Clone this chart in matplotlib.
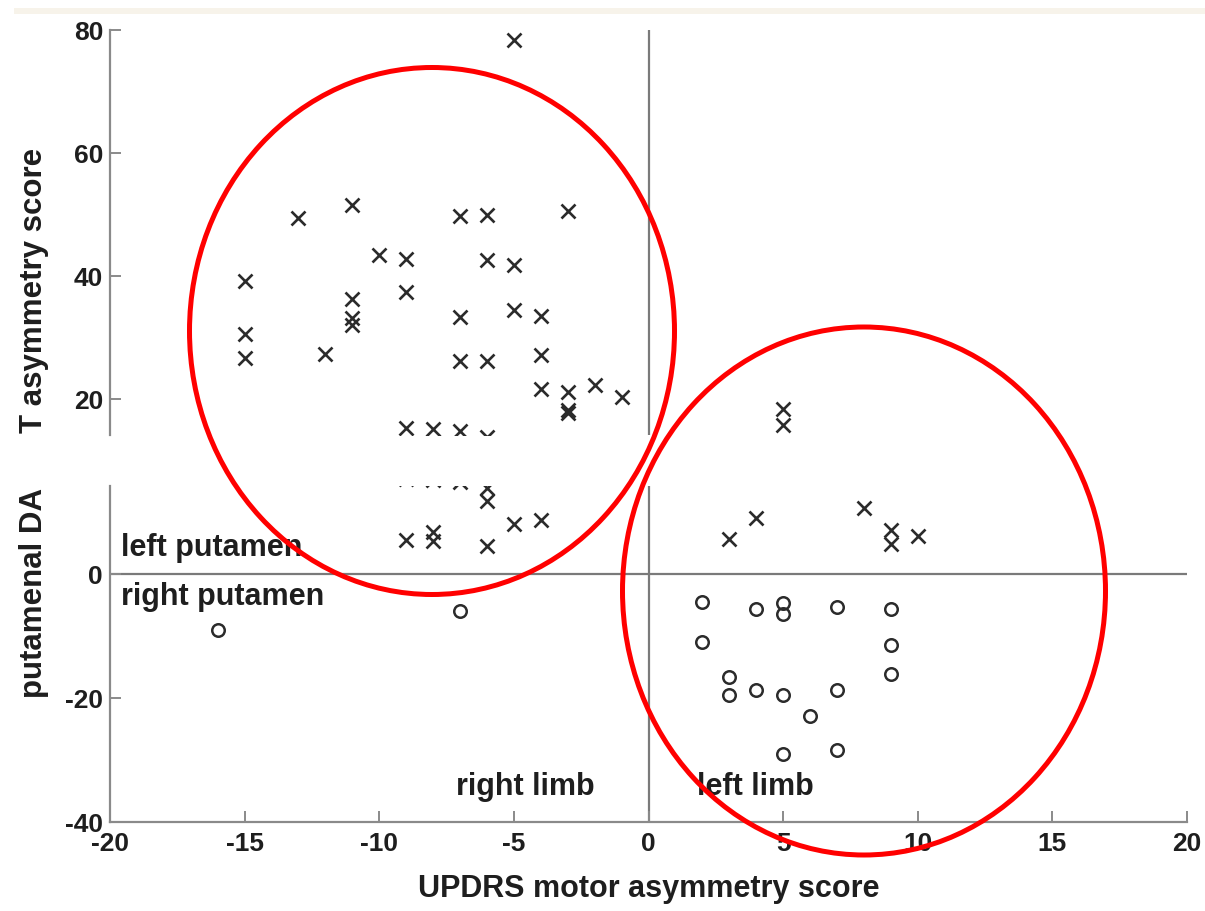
import matplotlib
matplotlib.use("Agg")
import matplotlib.pyplot as plt
from matplotlib.patches import Ellipse, Rectangle

plt.rcParams['font.family'] = ['Liberation Sans', 'DejaVu Sans']
plt.rcParams['font.weight'] = 'bold'
plt.rcParams['axes.unicode_minus'] = False

# UPDRS motor asymmetry vs putamenal DAT asymmetry
# crosses: left putamen more affected, circles: right putamen
cross_x = [-5, -13, -11, -10, -9, -9, -15, -15, -15, -11, -11, -11, -12,
           -7, -6, -3, -6, -5, -7, -5, -4, -7, -6, -4, -4, -3, -2, -1, -3, -3,
           -9, -8, -7, -6, -6,
           -9, -8, -8, -6, -5, -4,
           5, 5, 4, 3, 8, 9, 9, 10]
cross_y = [78.4, 49.4, 51.5, 43.4, 42.8, 37.4, 39.3, 30.6, 26.7, 36.3, 33.2, 32.0, 27.3,
           49.8, 49.9, 50.6, 42.6, 41.8, 33.3, 34.5, 33.5, 26.2, 26.3, 27.2, 21.6, 21.2, 22.4, 20.3, 18.2, 17.8,
           15.3, 15.2, 14.9, 13.8, 11.8,
           5.5, 6.8, 5.3, 4.5, 8.1, 8.7,
           18.4, 15.8, 9.0, 5.6, 10.6, 7.1, 4.8, 6.1]

circle_x = [-16, -7, 2, 2, 3, 3, 4, 4, 5, 5, 5, 5, 6, 7, 7, 7, 9, 9, 9]
circle_y = [-9.0, -6.0, -4.5, -11.0, -16.6, -19.5, -5.6, -18.7, -4.7, -6.5,
            -19.5, -29.0, -22.9, -5.3, -18.7, -28.4, -5.6, -11.5, -16.1]

x_ticks = [-20, -15, -10, -5, 0, 5, 10, 15, 20]
y_ticks_top = [20, 40, 60, 80]
y_ticks_bottom = [-40, -20, 0]
y_split = 14.2

W, H = 1205, 911
fig = plt.figure(figsize=(W / 100, H / 100), dpi=100)
fig.patch.set_facecolor('white')

left, width = 110 / W, 1077 / W
ax_top = fig.add_axes([left, 1 - 435 / H, width, 405 / H])
ax_bot = fig.add_axes([left, 1 - 822 / H, width, 336 / H])

spine_col = '#8a8a8a'
mark_col = '#2b2b2b'
for ax in (ax_top, ax_bot):
    ax.plot(cross_x, cross_y, 'x', ms=9.5, mew=1.9, color=mark_col, zorder=3)
    ax.plot(circle_x, circle_y, 'o', ms=9, mew=1.8, mfc='none', mec=mark_col, zorder=3)
    ax.axvline(0, color='#7a7a7a', lw=1.6, zorder=1)
    ax.set_xlim(-20, 20)
    for s in ('top', 'right'):
        ax.spines[s].set_visible(False)
    ax.spines['left'].set_color(spine_col)
    ax.spines['left'].set_linewidth(1.6)
    ax.spines['bottom'].set_color(spine_col)
    ax.spines['bottom'].set_linewidth(1.6)
    ax.tick_params(direction='in', length=8, width=1.4, color=spine_col,
                   labelsize=19, labelcolor='#1e1e1e', pad=5)

ax_top.set_ylim(y_split, 80)
ax_top.set_yticks(y_ticks_top)
ax_top.spines['bottom'].set_visible(False)
ax_top.tick_params(axis='x', bottom=False, labelbottom=False)

ax_bot.set_ylim(-40, y_split)
ax_bot.set_yticks(y_ticks_bottom)
ax_bot.set_xticks(x_ticks)
ax_bot.axhline(0, color='#7a7a7a', lw=1.6, zorder=1)
ax_bot.tick_params(axis='x', pad=7)

txt = dict(fontsize=22, fontweight='bold', color='#1e1e1e')
ax_bot.text(-19.6, 4.2, 'left putamen', ha='left', va='center', **txt)
ax_bot.text(-19.6, -3.7, 'right putamen', ha='left', va='center', **txt)
ax_bot.text(-2.0, -34.4, 'right limb', ha='right', va='center', **txt)
ax_bot.text(1.8, -34.4, 'left limb', ha='left', va='center', **txt)

fig.text(648.5 / W, 1 - 889 / H, 'UPDRS motor asymmetry score',
         ha='center', va='center', fontsize=22, fontweight='bold', color='#1e1e1e')

# y label split across the two panels
fig.text(34 / W, 1 - 433 / H, 'T asymmetry score', rotation=90,
         ha='center', va='bottom', fontsize=22.5, fontweight='bold', color='#1e1e1e')
fig.text(34 / W, 1 - 488 / H, 'putamenal DA', rotation=90,
         ha='center', va='top', fontsize=22.5, fontweight='bold', color='#1e1e1e')

# red ellipses marking the two groups
ov = fig.add_axes([0, 0, 1, 1])
ov.set_xlim(0, W)
ov.set_ylim(H, 0)
ov.axis('off')
ov.patch.set_alpha(0)
ov.add_patch(Rectangle((14, 8), W - 14, 6, color='#f7f3ea', lw=0))
ov.add_patch(Ellipse((432, 331), 485, 527, fill=False, ec='#ff0000', lw=3.6))
ov.add_patch(Ellipse((864, 591), 483, 528, fill=False, ec='#ff0000', lw=3.6))

fig.savefig('out.png', dpi=100)
